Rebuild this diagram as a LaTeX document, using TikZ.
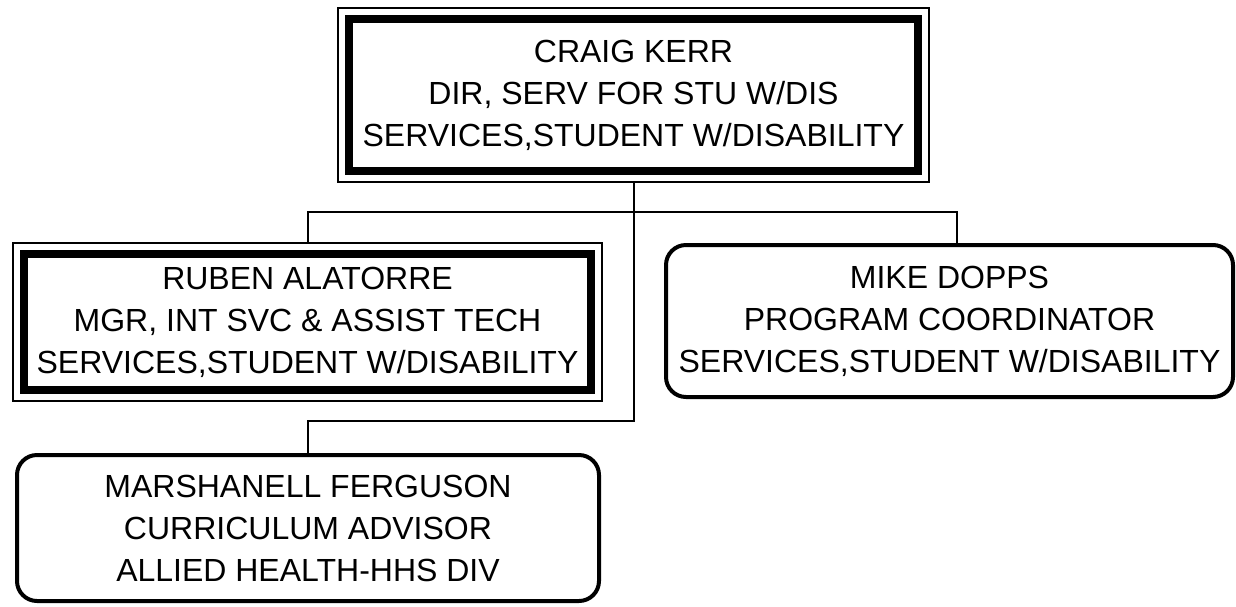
\documentclass[tikz,border=0pt]{standalone}
\usepackage{fontspec}
\setmainfont{Liberation Sans}

\begin{document}
\begin{tikzpicture}[x=1pt, y=-1pt,
  chart/.style={align=center, font=\fontsize{32}{42}\selectfont, outer sep=0pt, inner sep=0pt},
  headbox/.style={chart, draw, line width=8pt},
  staffbox/.style={chart, draw, line width=4pt, rounded corners=20pt},
  frame/.style={line width=2pt},
  link/.style={line width=2pt}]
  \useasboundingbox (0,0) rectangle (1236,606);
  % Boxes
  \node[headbox, minimum width=569pt, minimum height=152pt] (kerr) at (633.5,95)
    {CRAIG KERR\\DIR, SERV FOR STU W/DIS\\SERVICES,STUDENT W/DISABILITY};
  \node[headbox, minimum width=567pt, minimum height=136pt] (alatorre) at (307.5,322)
    {RUBEN ALATORRE\\MGR, INT SVC \& ASSIST TECH\\SERVICES,STUDENT W/DISABILITY};
  \node[staffbox, minimum width=567pt, minimum height=152pt] (dopps) at (949.5,321)
    {MIKE DOPPS\\PROGRAM COORDINATOR\\SERVICES,STUDENT W/DISABILITY};
  \node[staffbox, minimum width=582pt, minimum height=146pt] (ferguson) at (308,528)
    {MARSHANELL FERGUSON\\CURRICULUM ADVISOR\\ALLIED HEALTH-HHS DIV};
  % Outer frames
  \foreach \n in {kerr,alatorre}{
    \draw[frame] ([shift={(-11,-11)}]\n.north west) rectangle ([shift={(11,11)}]\n.south east);
  }
  % Connectors
  \coordinate (bus) at (633.5,212);
  \coordinate (sub) at (633.5,421);
  \draw[link] ([shift={(0,11)}]kerr.south) -- (sub) -| (ferguson.north);
  \draw[link] ([shift={(0,-11)}]alatorre.north) |- (bus) -| ([xshift=7.5pt]dopps.north);
\end{tikzpicture}
\end{document}
